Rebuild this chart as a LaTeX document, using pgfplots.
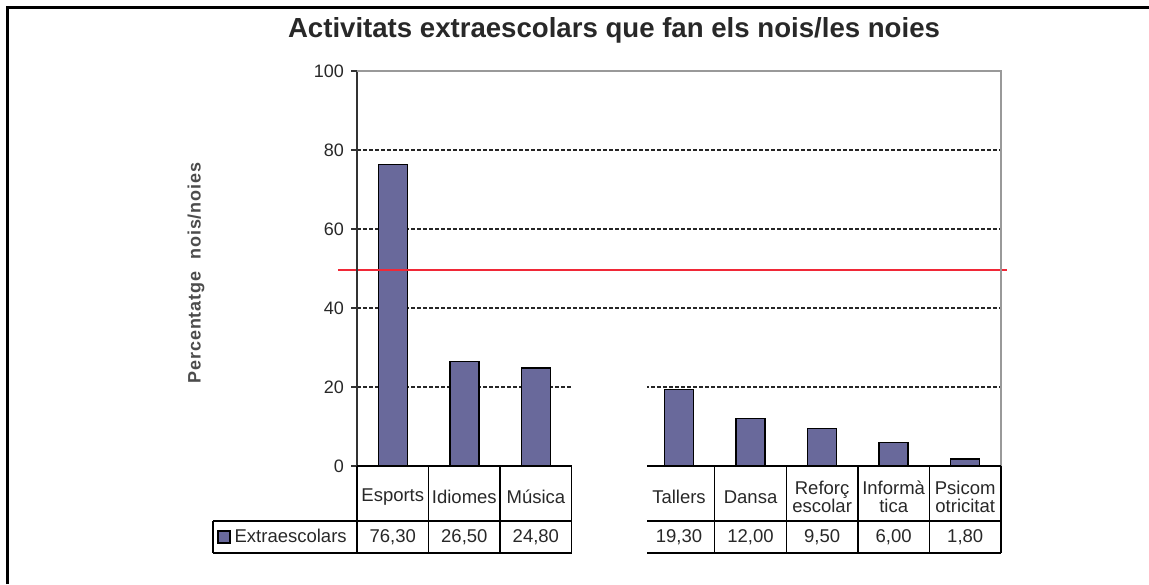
\documentclass[border=0pt]{standalone}
\usepackage{fontspec}
\setmainfont{Liberation Sans}
\usepackage{pgfplots}
\usepackage{pgfplotstable}
\pgfplotsset{compat=1.18}
\definecolor{barcol}{RGB}{105,105,155}
\definecolor{txt}{RGB}{40,40,40}
\definecolor{redline}{RGB}{240,40,55}

\pgfplotstableread{
x y lab
0 76.30 76,30
1 26.50 26,50
2 24.80 24,80
4 19.30 19,30
5 12.00 12,00
6 9.50 9,50
7 6.00 6,00
8 1.80 1,80
}\data

\begin{document}
\begin{tikzpicture}
\useasboundingbox (0pt,0pt) rectangle (574.5pt,292pt);
\begin{axis}[
  at={(178.5pt,59pt)}, anchor=south west, scale only axis,
  width=322pt, height=197.5pt,
  xmin=-0.5, xmax=8.5, ymin=0, ymax=100,
  clip=false,
  axis line style={draw=none},
  ytick={20,40,60,80},
  extra y ticks={0,100},
  extra y tick style={grid=none},
  ymajorgrids,
  grid style={black!85, line width=0.7pt, dash pattern=on 2pt off 1pt},
  ytick pos=left, tick align=outside, major tick length=3pt,
  ytick style={black!80, line width=0.7pt},
  yticklabel style={font=\fontsize{9}{10}\selectfont, text=txt},
  /pgf/number format/assume math mode=true,
  xtick={0,1,2,4,5,6,7,8},
  xticklabels={Esports,Idiomes,Música,Tallers,Dansa,Reforç\\escolar,Informà\\tica,Psicom\\otricitat},
  xtick style={draw=none},
  xticklabel style={font=\fontsize{9.25}{9}\selectfont, align=center, anchor=center, yshift=-12.5pt, text=txt},
  title={Activitats extraescolars que fan els nois/les noies},
  title style={at={(axis description cs:0.3991,1.0546)}, anchor=base, font=\fontsize{13.8}{14}\selectfont\bfseries, text=txt},
  ylabel={Percentatge\ \ nois/noies},
  ylabel style={at={(axis description cs:-0.25,0.4886)}, anchor=center, font=\fontsize{9}{10}\selectfont\bfseries\addfontfeature{LetterSpace=5}, text=black!70},
  legend style={at={(axis cs:-2.512,-17.97)}, anchor=west, draw=none, fill=none, inner xsep=2pt, font=\fontsize{9.25}{10}\selectfont, text=txt},
  legend image code/.code={\draw[fill=barcol, draw=black, line width=0.6pt] (0pt,-3pt) rectangle (6pt,3pt);},
]
\addplot[ybar, bar width=14.5pt, fill=barcol, draw=black, line width=0.7pt] table[x=x,y=y]{\data};
\addlegendentry{Extraescolars}
\addplot[draw=none, mark=none, forget plot, nodes near coords, point meta=explicit symbolic,
  every node near coord/.append style={anchor=center, font=\fontsize{9.25}{10}\selectfont, text=txt}]
  table[x=x, y expr=-17.97, meta=lab]{\data};
\addplot[redline, line width=0.75pt, forget plot] coordinates {(-0.766,49.6) (8.583,49.6)};
% axis frame
\draw[black!80, line width=1pt] (rel axis cs:0,0) -- (rel axis cs:0,1);
\draw[black!40, line width=1pt] (rel axis cs:0,1) -- (rel axis cs:1,1) -- (rel axis cs:1,0);
\draw[black, line width=0.75pt] (rel axis cs:0,0) -- (rel axis cs:1,0);
% data table
\draw[black, line width=0.7pt]
  (axis cs:-2.512,-13.92) -- (axis cs:8.5,-13.92)
  (axis cs:-2.512,-22.03) -- (axis cs:8.5,-22.03)
  (axis cs:-2.512,-13.92) -- (axis cs:-2.512,-22.03)
  (axis cs:-0.5,0) -- (axis cs:-0.5,-22.03)
  (axis cs:0.5,0) -- (axis cs:0.5,-22.03)
  (axis cs:1.5,0) -- (axis cs:1.5,-22.03)
  (axis cs:2.5,0) -- (axis cs:2.5,-22.03)
  (axis cs:3.5,0) -- (axis cs:3.5,-22.03)
  (axis cs:4.5,0) -- (axis cs:4.5,-22.03)
  (axis cs:5.5,0) -- (axis cs:5.5,-22.03)
  (axis cs:6.5,0) -- (axis cs:6.5,-22.03)
  (axis cs:7.5,0) -- (axis cs:7.5,-22.03)
  (axis cs:8.5,0) -- (axis cs:8.5,-22.03);
\end{axis}
% blank patch as in the reference
\fill[white] (285.75pt,13pt) rectangle (323.25pt,107pt);
% outer frame
\draw[black, line width=1.25pt] (3.75pt,0pt) -- (3.75pt,288.25pt) -- (574.5pt,288.25pt);
\end{tikzpicture}
\end{document}
